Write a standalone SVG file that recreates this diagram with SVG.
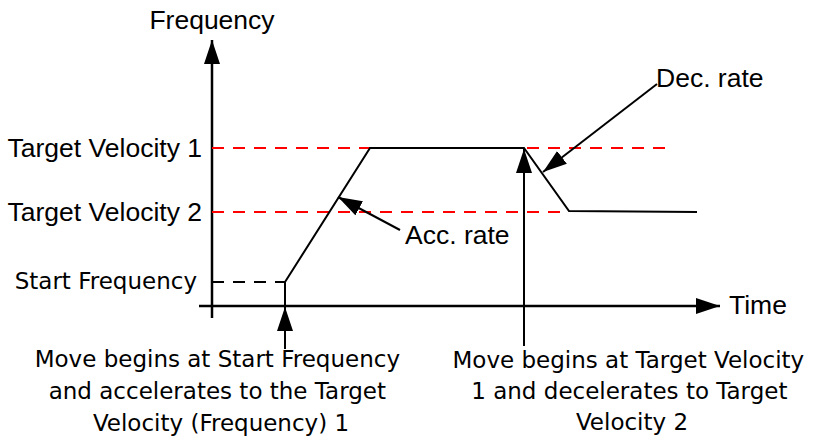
<svg xmlns="http://www.w3.org/2000/svg" width="814" height="437" viewBox="0 0 814 437">
  <style>
    .lbl { font-family: "Liberation Sans", Arial, sans-serif; font-size: 26.5px; fill: #000; }
    .cap { font-family: "DejaVu Sans", Verdana, sans-serif; font-size: 23px; fill: #000; }
    .ln { stroke: #000; stroke-width: 2; fill: none; }
    .ax { stroke: #000; stroke-width: 2.5; fill: none; }
    .red { stroke: #ff0000; stroke-width: 2; stroke-dasharray: 12 9; fill: none; }
    .blk { stroke: #000; stroke-width: 2; stroke-dasharray: 12 9; fill: none; }
  </style>
  <defs>
    <marker id="ah" viewBox="0 0 24 16" refX="24" refY="8" markerWidth="24" markerHeight="16" orient="auto" markerUnits="userSpaceOnUse">
      <path d="M0,0 L24,8 L0,16 z" fill="#000"/>
    </marker>
  </defs>
  <rect width="814" height="437" fill="#fff"/>

  <g id="axes">
    <line class="ax" x1="212" y1="318" x2="212" y2="40" marker-end="url(#ah)"/>
    <line class="ax" x1="199" y1="306" x2="720" y2="306" marker-end="url(#ah)"/>
    <text class="lbl" x="212" y="29" text-anchor="middle">Frequency</text>
    <text class="lbl" x="729" y="314">Time</text>
  </g>

  <g id="levels">
    <line class="red" x1="212" y1="148" x2="673" y2="148"/>
    <line class="red" x1="212" y1="212" x2="567" y2="212"/>
    <line class="blk" x1="212" y1="282" x2="285" y2="282"/>
    <text class="lbl" x="202" y="157" text-anchor="end">Target Velocity 1</text>
    <text class="lbl" x="202" y="221" text-anchor="end">Target Velocity 2</text>
    <text class="cap" x="197" y="289" text-anchor="end">Start Frequency</text>
  </g>

  <g id="profile">
    <polyline class="ln" points="285,282 370,148 524,148 569,211 697,212"/>
  </g>

  <g id="connectors">
    <line class="ln" x1="285" y1="349" x2="285" y2="282"/>
    <line class="ln" x1="285" y1="349" x2="285" y2="307" marker-end="url(#ah)"/>
    <line class="ln" x1="524" y1="346" x2="524" y2="149" marker-end="url(#ah)"/>
    <line class="ln" x1="657" y1="84" x2="543" y2="172" marker-end="url(#ah)"/>
    <line class="ln" x1="400" y1="230" x2="338" y2="197" marker-end="url(#ah)"/>
  </g>

  <g id="annotations">
    <text class="lbl" x="656" y="87">Dec. rate</text>
    <text class="lbl" x="405" y="244">Acc. rate</text>
  </g>

  <g id="note-left">
    <text class="cap" text-anchor="middle">
      <tspan x="221" y="367">Move begins at Start Frequency</tspan>
      <tspan x="221" y="399">and accelerates to the Target</tspan>
      <tspan x="221" y="431">Velocity (Frequency) 1</tspan>
    </text>
  </g>

  <g id="note-right">
    <text class="cap" text-anchor="middle">
      <tspan x="632" y="368">Move begins at Target Velocity</tspan>
      <tspan x="633" y="399">1 and decelerates to Target</tspan>
      <tspan x="632" y="430">Velocity 2</tspan>
    </text>
  </g>
</svg>
